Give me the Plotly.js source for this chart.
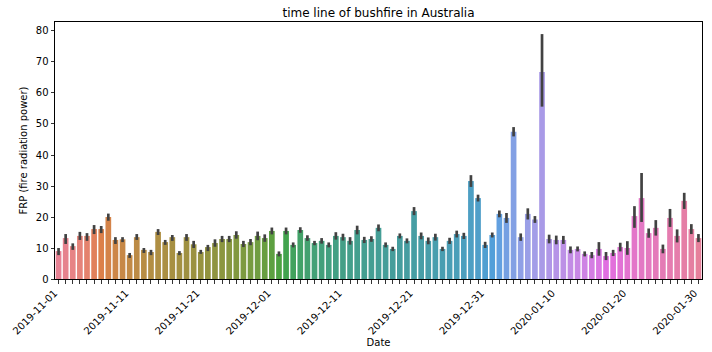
<!DOCTYPE html>
<html>
<head>
<meta charset="utf-8">
<script src="https://cdn.plot.ly/plotly-3.0.1.min.js"></script>
<style>html,body{margin:0;padding:0;background:#fff;}#chart{width:712px;height:352px;}</style>
</head>
<body>
<div id="chart"></div>
<script>
const dates = [
"2019-11-01","2019-11-02","2019-11-03","2019-11-04","2019-11-05","2019-11-06","2019-11-07","2019-11-08","2019-11-09","2019-11-10",
"2019-11-11","2019-11-12","2019-11-13","2019-11-14","2019-11-15","2019-11-16","2019-11-17","2019-11-18","2019-11-19","2019-11-20",
"2019-11-21","2019-11-22","2019-11-23","2019-11-24","2019-11-25","2019-11-26","2019-11-27","2019-11-28","2019-11-29","2019-11-30",
"2019-12-01","2019-12-02","2019-12-03","2019-12-04","2019-12-05","2019-12-06","2019-12-07","2019-12-08","2019-12-09","2019-12-10",
"2019-12-11","2019-12-12","2019-12-13","2019-12-14","2019-12-15","2019-12-16","2019-12-17","2019-12-18","2019-12-19","2019-12-20",
"2019-12-21","2019-12-22","2019-12-23","2019-12-24","2019-12-25","2019-12-26","2019-12-27","2019-12-28","2019-12-29","2019-12-30",
"2019-12-31","2020-01-01","2020-01-02","2020-01-03","2020-01-04","2020-01-05","2020-01-06","2020-01-07","2020-01-08","2020-01-09",
"2020-01-10","2020-01-11","2020-01-12","2020-01-13","2020-01-14","2020-01-15","2020-01-16","2020-01-17","2020-01-18","2020-01-19",
"2020-01-20","2020-01-21","2020-01-22","2020-01-23","2020-01-24","2020-01-25","2020-01-26","2020-01-27","2020-01-28","2020-01-29",
"2020-01-30"];
const frp = [
9.0,13.2,10.6,13.9,13.9,16.1,16.1,20.0,12.6,12.8,
7.7,13.5,9.4,8.7,15.2,11.9,13.5,8.4,13.5,11.2,
8.7,10.3,11.6,12.9,12.9,14.2,11.3,11.9,13.9,13.2,
15.5,8.1,15.5,11.0,15.8,13.2,11.6,12.3,11.0,13.9,
13.5,12.3,15.8,12.6,12.9,16.5,11.0,9.7,13.9,12.3,
21.9,13.9,12.3,13.5,9.7,12.3,14.5,13.9,31.6,26.1,
11.0,14.2,21.0,19.7,47.5,13.5,21.0,19.2,66.8,12.9,
12.6,12.6,9.4,9.7,8.1,7.7,9.7,7.4,8.4,10.3,
10.0,20.3,26.1,14.8,16.5,9.7,19.7,13.9,25.2,16.1,
13.2];
const errPlus = [
1.0,1.3,0.9,1.3,0.9,1.3,1.0,1.1,0.9,0.7,
0.7,1.0,0.6,0.7,0.9,0.7,0.7,0.6,1.0,1.1,
0.7,0.7,1.2,1.0,1.0,1.2,1.0,1.0,1.4,1.2,
1.1,0.8,1.1,0.8,0.9,0.9,0.7,0.9,0.8,1.2,
1.1,1.2,1.4,1.0,0.9,1.1,0.8,0.7,0.8,0.8,
1.3,1.1,1.1,1.1,0.7,1.0,1.1,1.0,1.9,1.1,
1.0,0.8,1.1,1.6,1.5,1.2,1.8,1.1,12.2,1.4,
1.4,1.3,1.1,0.8,0.8,1.0,2.2,1.3,1.0,1.4,
2.2,3.2,8.1,1.5,2.5,1.4,2.9,2.1,2.6,1.6,
1.3];
const errMinus = [
1.3,1.9,1.2,1.3,1.6,1.6,1.3,1.2,1.3,0.9,
0.9,0.9,1.0,1.0,1.0,0.9,1.2,0.7,1.2,1.2,
0.6,1.3,1.2,1.0,1.0,1.2,1.0,1.0,1.4,1.2,
1.1,0.8,1.1,0.8,0.9,0.9,0.7,0.9,0.8,1.2,
1.1,1.2,1.4,1.0,0.9,1.1,0.8,0.7,0.8,0.8,
1.3,1.1,1.1,1.1,0.7,1.0,1.1,1.0,1.9,1.1,
1.0,0.8,1.1,1.6,1.5,1.2,1.8,1.1,11.2,1.4,
1.4,1.3,1.1,0.8,0.8,1.0,2.2,1.3,1.0,1.4,
2.2,3.8,7.7,1.5,2.5,1.4,2.9,2.1,2.6,1.6,
1.3];
const yTicks = [0,10,20,30,40,50,60,70,80];
const labelEvery = 10;

// ---- seaborn husl palette + desaturation (0.75) ----
const M = [[3.2406,-1.5372,-0.4986],[-0.9689,1.8758,0.0415],[0.0557,-0.2040,1.0570]];
const refU = 0.19784, refV = 0.46834, labE = 0.008856, labK = 903.3;
function maxChroma(L, H) {
  const hr = H / 360 * 2 * Math.PI, sinH = Math.sin(hr), cosH = Math.cos(hr);
  const sub1 = Math.pow(L + 16, 3) / 1560896;
  const sub2 = sub1 > labE ? sub1 : L / labK;
  let res = Infinity;
  for (const [m1, m2, m3] of M) {
    const top = (0.99915 * m1 + 1.05122 * m2 + 1.14460 * m3) * sub2;
    const rb = 0.86330 * m3 - 0.17266 * m2;
    const lb = 0.12949 * m3 - 0.38848 * m1;
    const bottom = (rb * sinH + lb * cosH) * sub2;
    for (const t of [0, 1]) {
      const C = L * (top - 1.05122 * t) / (bottom + 0.17266 * sinH * t);
      if (C > 0 && C < res) res = C;
    }
  }
  return res;
}
function fInv(t) { return Math.pow(t, 3) > labE ? Math.pow(t, 3) : (116 * t - 16) / labK; }
function fromLinear(c) { return c <= 0.0031308 ? 12.92 * c : 1.055 * Math.pow(c, 1 / 2.4) - 0.055; }
function huslToRgb(H, S, L) {
  const C = maxChroma(L, H) / 100 * S;
  const hr = H / 360 * 2 * Math.PI;
  const U = C * Math.cos(hr), V = C * Math.sin(hr);
  const varY = fInv((L + 16) / 116);
  const varU = U / (13 * L) + refU, varV = V / (13 * L) + refV;
  const Y = varY;
  const X = 0 - (9 * Y * varU) / ((varU - 4) * varV - varU * varV);
  const Z = (9 * Y - 15 * varV * Y - varV * X) / (3 * varV);
  return M.map(r => Math.min(1, Math.max(0, fromLinear(r[0] * X + r[1] * Y + r[2] * Z))));
}
function rgbToHls(r, g, b) {
  const mx = Math.max(r, g, b), mn = Math.min(r, g, b);
  const l = (mx + mn) / 2;
  if (mx === mn) return [0, l, 0];
  const d = mx - mn;
  const s = l <= 0.5 ? d / (mx + mn) : d / (2 - mx - mn);
  const rc = (mx - r) / d, gc = (mx - g) / d, bc = (mx - b) / d;
  let h = r === mx ? bc - gc : (g === mx ? 2 + rc - bc : 4 + gc - rc);
  h = ((h / 6) % 1 + 1) % 1;
  return [h, l, s];
}
function v(m1, m2, hue) {
  hue = ((hue % 1) + 1) % 1;
  if (hue < 1 / 6) return m1 + (m2 - m1) * hue * 6;
  if (hue < 0.5) return m2;
  if (hue < 2 / 3) return m1 + (m2 - m1) * (2 / 3 - hue) * 6;
  return m1;
}
function hlsToRgb(h, l, s) {
  if (s === 0) return [l, l, l];
  const m2 = l <= 0.5 ? l * (1 + s) : l + s - l * s;
  const m1 = 2 * l - m2;
  return [v(m1, m2, h + 1 / 3), v(m1, m2, h), v(m1, m2, h - 1 / 3)];
}
function palette(n) {
  const out = [];
  for (let i = 0; i < n; i++) {
    const h = ((i / n) + 0.01) % 1 * 359;
    const rgb = huslToRgb(h, 0.9 * 99, 0.65 * 99);
    const [hh, ll, ss] = rgbToHls(...rgb);
    const d = hlsToRgb(hh, ll, ss * 0.75);
    out.push('rgb(' + d.map(c => Math.round(c * 255)).join(',') + ')');
  }
  return out;
}
const colors = palette(dates.length);
const tickText = dates.map((d, i) => (i % labelEvery === 0 ? d : ''));

const trace = {
  type: 'bar',
  x: dates,
  y: frp,
  marker: { color: colors, line: { width: 0 } },
  error_y: { type: 'data', symmetric: false, array: errPlus, arrayminus: errMinus,
             color: '#424242', thickness: 2.7, width: 0 },
  hoverinfo: 'x+y'
};
const font = { family: 'DejaVu Sans, sans-serif', size: 10, color: '#000' };
const layout = {
  width: 712, height: 352,
  margin: { l: 55, r: 10, t: 22, b: 73, pad: 0 },
  paper_bgcolor: '#fff', plot_bgcolor: '#fff',
  font: font,
  bargap: 0.2,
  showlegend: false,
  title: { text: 'time line of bushfire in Australia', font: { family: 'DejaVu Sans, sans-serif', size: 12, color: '#000' },
           x: 0.5, xref: 'paper', y: 1, yref: 'container', yanchor: 'top', pad: { t: 9 } },
  xaxis: {
    type: 'category',
    tickmode: 'array', tickvals: dates, ticktext: tickText,
    tickangle: -45,
    ticklabelshift: -4,
    ticks: 'outside', ticklen: 3.5, tickwidth: 0.8, tickcolor: '#000',
    showline: true, mirror: true, linecolor: '#000', linewidth: 1,
    showgrid: false, zeroline: false,
    tickfont: font,
    title: { text: 'Date', font: font, standoff: 2 },
    range: [-0.5, dates.length - 0.5]
  },
  yaxis: {
    range: [0, 82.9],
    tickmode: 'array', tickvals: yTicks, ticktext: yTicks.map(String),
    ticks: 'outside', ticklen: 3.5, tickwidth: 0.8, tickcolor: '#000',
    showline: true, mirror: true, linecolor: '#000', linewidth: 1,
    showgrid: false, zeroline: false,
    tickfont: font,
    title: { text: 'FRP (fire radiation power)', font: font, standoff: 6 }
  }
};
Plotly.newPlot('chart', [trace], layout, { staticPlot: true, displayModeBar: false });
</script>
</body>
</html>
